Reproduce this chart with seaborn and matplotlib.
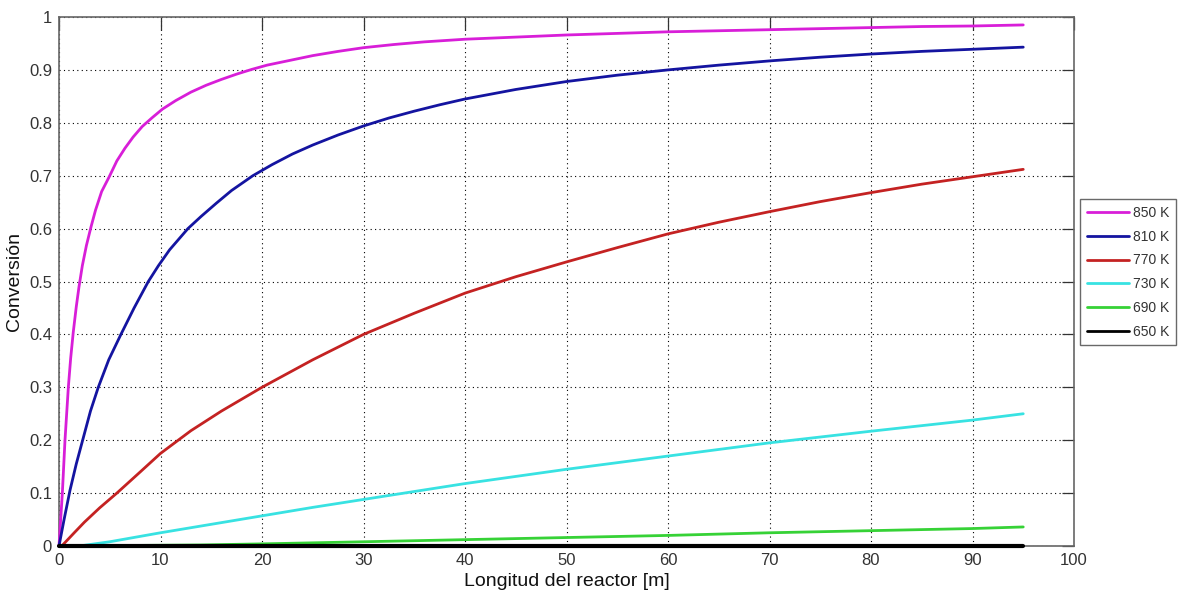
import matplotlib
matplotlib.use("Agg")
import matplotlib.pyplot as plt
import seaborn as sns
import pandas as pd

# ---- data ----
labels = ["850 K", "810 K", "770 K", "730 K", "690 K", "650 K"]
colors = ["#D81ED8", "#1414A0", "#C42222", "#38E2E2", "#36D236", "#000000"]

x_850 = [0, 0.33, 0.59, 0.92, 1.15, 1.41, 1.7, 1.97, 2.3, 2.7, 3.15, 3.6, 4.2, 5.0, 5.7, 6.5, 7.3, 8.2, 9.2, 10.2,
         11.5, 13, 14.5, 16, 17.5, 19, 20.5, 22.5, 25, 27.5, 30, 33, 36, 40, 45, 50, 55, 60, 65, 70, 75, 80, 85,
         90, 95]
y_850 = [0, 0.10, 0.20, 0.30, 0.355, 0.405, 0.452, 0.49, 0.53, 0.568, 0.603, 0.635, 0.67, 0.70, 0.728, 0.752,
         0.773, 0.793, 0.81, 0.826, 0.842, 0.858, 0.871, 0.882, 0.892, 0.901, 0.909, 0.917, 0.927, 0.935, 0.942,
         0.948, 0.953, 0.958, 0.962, 0.966, 0.969, 0.972, 0.974, 0.976, 0.978, 0.980, 0.982, 0.983, 0.985]

x_810 = [0, 0.5, 1.08, 1.7, 2.4, 3.1, 3.87, 4.9, 6.1, 7.4, 8.8, 9.8, 10.9, 11.8, 12.7, 14, 15.5, 17, 19.1, 21, 23,
         25, 27.5, 30, 32.5, 35, 37.5, 40, 45, 50, 55, 60, 65, 70, 75, 80, 85, 90, 95]
y_810 = [0, 0.05, 0.105, 0.155, 0.205, 0.255, 0.30, 0.352, 0.40, 0.45, 0.50, 0.53, 0.56, 0.58, 0.60, 0.623, 0.648,
         0.672, 0.70, 0.721, 0.741, 0.758, 0.777, 0.794, 0.809, 0.822, 0.834, 0.845, 0.863, 0.878, 0.89, 0.90,
         0.909, 0.917, 0.924, 0.93, 0.935, 0.939, 0.943]

x_770 = [0, 0.27, 1.5, 2.5, 4, 5.7, 8, 10, 13, 16, 20, 25, 30, 35, 40, 45, 50, 55, 60, 65, 70, 75, 80, 85, 90, 95]
y_770 = [0, 0, 0.025, 0.045, 0.072, 0.10, 0.14, 0.175, 0.218, 0.255, 0.30, 0.352, 0.40, 0.440, 0.478, 0.509,
         0.537, 0.564, 0.590, 0.612, 0.632, 0.651, 0.668, 0.684, 0.698, 0.712]

x_730 = [0, 2, 5, 10, 15, 20, 25, 30, 40, 50, 60, 70, 80, 90, 95]
y_730 = [0, 0, 0.008, 0.025, 0.041, 0.057, 0.073, 0.088, 0.118, 0.145, 0.170, 0.195, 0.217, 0.238, 0.250]

x_690 = [0, 14, 20, 30, 40, 50, 60, 70, 80, 90, 95]
y_690 = [0, 0.002, 0.004, 0.008, 0.012, 0.016, 0.020, 0.025, 0.029, 0.033, 0.036]

x_650 = [0, 95]
y_650 = [0, 0]

xticks = list(range(0, 101, 10))
yticks = [0, 0.1, 0.2, 0.3, 0.4, 0.5, 0.6, 0.7, 0.8, 0.9, 1]
ytick_labels = ["0", "0.1", "0.2", "0.3", "0.4", "0.5", "0.6", "0.7", "0.8", "0.9", "1"]

series = [(x_850, y_850), (x_810, y_810), (x_770, y_770), (x_730, y_730), (x_690, y_690), (x_650, y_650)]
frames = []
for lab, (xs, ys) in zip(labels, series):
    frames.append(pd.DataFrame({"x": xs, "y": ys, "T": lab}))
df = pd.concat(frames, ignore_index=True)

sns.set_style("white")
plt.rcParams["font.family"] = ["Liberation Sans", "DejaVu Sans"]

fig = plt.figure(figsize=(11.84, 5.96), dpi=100)
ax = fig.add_axes([59 / 1184, 1 - 546 / 596, (1074 - 59) / 1184, (546 - 17) / 596])

sns.lineplot(data=df, x="x", y="y", hue="T", hue_order=labels,
             palette=dict(zip(labels, colors)), sort=False, estimator=None,
             linewidth=2.0, ax=ax, legend=True)
for ln in ax.lines:
    ln.set_clip_on(False)
    ln.set_solid_joinstyle("round")
    ln.set_zorder(3)
if len(ax.lines) >= 6:
    ax.lines[5].set_linewidth(3.0)

ax.set_xlim(0, 100)
ax.set_ylim(0, 1)
ax.set_xticks(xticks)
ax.set_xticklabels([str(t) for t in xticks])
ax.set_yticks(yticks)
ax.set_yticklabels(ytick_labels)
ax.grid(True, linestyle=(0, (1, 3)), color="black", linewidth=0.8)
ax.tick_params(direction="in", length=9, width=0.9, color="#333333",
               top=True, right=True, labelsize=12, labelcolor="#333333", pad=5)
for sp in ax.spines.values():
    sp.set_visible(True)
    sp.set_color("#666666")
    sp.set_linewidth(1.2)

ax.set_xlabel("Longitud del reactor [m]", fontsize=14, color="#111111", labelpad=4)
ax.set_ylabel("Conversión", fontsize=14, color="#111111", labelpad=4)

leg = ax.legend(loc="upper left", bbox_to_anchor=(1080 / 1184, 1 - 199 / 596),
                bbox_transform=fig.transFigure, frameon=True, fancybox=False,
                fontsize=10, handlelength=3.0, handletextpad=0.3,
                labelspacing=0.7, borderpad=0.5, borderaxespad=0)
leg.get_frame().set_edgecolor("#444444")
leg.get_frame().set_linewidth(1.0)
for t in leg.get_texts():
    t.set_color("#333333")

fig.savefig("out.png", dpi=100, facecolor="white")
